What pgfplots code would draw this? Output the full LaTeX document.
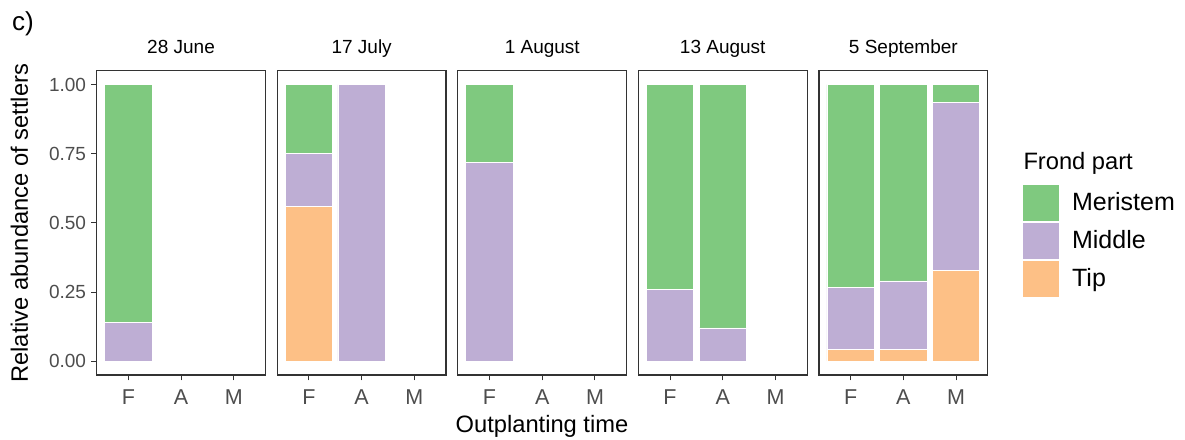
\documentclass[border=0pt]{standalone}
\usepackage{pgfplots}
\pgfplotsset{compat=1.18}
\usepackage{fontspec}
\setmainfont{Liberation Sans}
\definecolor{merc}{HTML}{7FC97F}
\definecolor{midc}{HTML}{BEAED4}
\definecolor{tipc}{HTML}{FDC086}
\definecolor{tickc}{HTML}{4D4D4D}
\definecolor{framec}{HTML}{333333}
\pgfplotsset{
  panel/.style={
    scale only axis, width=168.7pt, height=304.3pt,
    anchor=south west,
    xmin=0.4, xmax=3.6, ymin=-0.05, ymax=1.05,
    ybar stacked, bar width=0.9,
    xtick={1,2,3}, xticklabels={F,A,M},
    tick align=outside, major tick length=5.5pt,
    xtick pos=bottom, ytick pos=left,
    every tick/.style={framec, line width=1pt},
    axis line style={framec, line width=1.1pt},
    /pgf/number format/assume math mode=true,
    xticklabel style={font=\fontsize{21.5}{24}\selectfont, text=tickc, inner sep=0pt, yshift=-9.5pt},
    yticklabel style={font=\fontsize{19}{22}\selectfont, text=tickc, inner sep=0pt, xshift=-5pt},
    title style={font=\fontsize{19}{22}\selectfont, anchor=base, at={(0.5,1)}, yshift=11.4pt, inner sep=0pt},
  },
  bt/.style={fill=tipc, draw=white, line width=0.8pt},
  bm/.style={fill=midc, draw=white, line width=0.8pt},
  bg/.style={fill=merc, draw=white, line width=0.8pt},
}
\begin{document}
\begin{tikzpicture}
\path[use as bounding box] (0,0) rectangle (1185pt,439pt);
% 28 June
\begin{axis}[panel, at={(96.7pt,64pt)}, title={28 June},
  ytick={0,0.25,0.5,0.75,1}, yticklabels={0.00,0.25,0.50,0.75,1.00}]
\addplot[bt] coordinates {(1,0) (2,0) (3,0)};
\addplot[bm] coordinates {(1,0.14) (2,0) (3,0)};
\addplot[bg] coordinates {(1,0.86) (2,0) (3,0)};
\end{axis}
% 17 July
\begin{axis}[panel, at={(277.3pt,64pt)}, title={17 July}, ytick=\empty]
\addplot[bt] coordinates {(1,0.56) (2,0) (3,0)};
\addplot[bm] coordinates {(1,0.19) (2,1.0) (3,0)};
\addplot[bg] coordinates {(1,0.25) (2,0) (3,0)};
\end{axis}
% 1 August
\begin{axis}[panel, at={(457.9pt,64pt)}, title={1 August}, ytick=\empty]
\addplot[bt] coordinates {(1,0) (2,0) (3,0)};
\addplot[bm] coordinates {(1,0.72) (2,0) (3,0)};
\addplot[bg] coordinates {(1,0.28) (2,0) (3,0)};
\end{axis}
% 13 August
\begin{axis}[panel, at={(638.4pt,64pt)}, title={13 August}, ytick=\empty]
\addplot[bt] coordinates {(1,0) (2,0) (3,0)};
\addplot[bm] coordinates {(1,0.26) (2,0.12) (3,0)};
\addplot[bg] coordinates {(1,0.74) (2,0.88) (3,0)};
\end{axis}
% 5 September
\begin{axis}[panel, at={(819pt,64pt)}, title={5 September}, ytick=\empty,
  legend style={at={(1.2110,0.6244)}, anchor=north west, draw=none, fill=none,
    inner sep=0pt, outer sep=0pt, row sep=2.5pt, nodes={inner sep=0pt},
    font=\fontsize{25}{28}\selectfont,
    /tikz/every odd column/.style={column sep=13.4pt}},
  legend cell align=left]
\addlegendimage{legend image code/.code={\fill[merc] (0pt,-17.5pt) rectangle (35pt,17.5pt);}}
\addlegendentry{Meristem}
\addlegendimage{legend image code/.code={\fill[midc] (0pt,-17.5pt) rectangle (35pt,17.5pt);}}
\addlegendentry{Middle}
\addlegendimage{legend image code/.code={\fill[tipc] (0pt,-17.5pt) rectangle (35pt,17.5pt);}}
\addlegendentry{Tip}
\addplot[bt] coordinates {(1,0.042) (2,0.042) (3,0.328)};
\addplot[bm] coordinates {(1,0.225) (2,0.248) (3,0.606)};
\addplot[bg] coordinates {(1,0.733) (2,0.71) (3,0.066)};
\end{axis}
\node[anchor=base west, inner sep=0pt, font=\fontsize{26}{30}\selectfont] at (12pt,408pt) {c)};
\node[anchor=base, inner sep=0pt, font=\fontsize{23.7}{28}\selectfont] at (542pt,6.3pt) {Outplanting time};
\node[anchor=base, rotate=90, inner sep=0pt, font=\fontsize{23.7}{28}\selectfont] at (27.8pt,215.7pt) {Relative abundance of settlers};
\node[anchor=base west, inner sep=0pt, font=\fontsize{23.7}{28}\selectfont] at (1023.3pt,269pt) {Frond part};
\end{tikzpicture}
\end{document}
